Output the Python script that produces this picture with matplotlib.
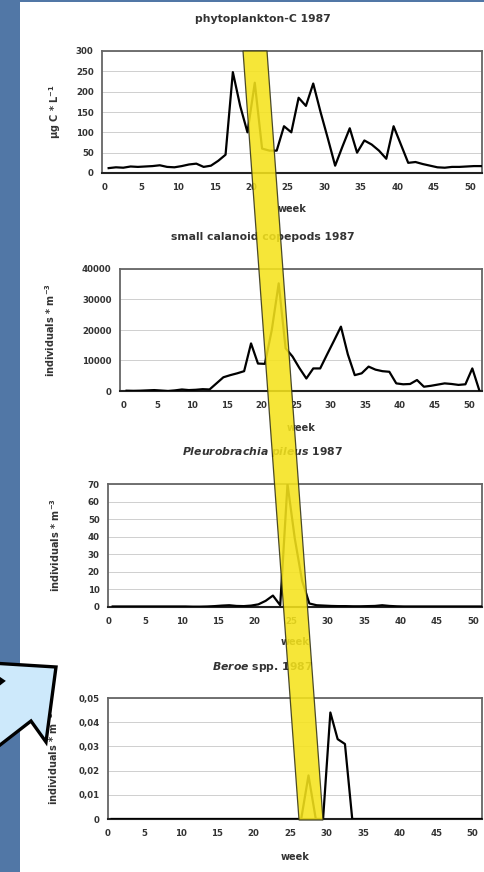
import numpy as np
import matplotlib
matplotlib.use("Agg")
import matplotlib.pyplot as plt
from matplotlib.patches import Polygon, Rectangle

# -- data (one value per week) --
weeks = np.arange(1, 53)

phyto_c = [12, 14, 13, 16, 15, 16, 17, 19, 15, 14, 17, 21, 23, 15, 18, 30, 45,
           248, 165, 100, 222, 60, 55, 55, 115, 100, 185, 165, 220, 150, 85, 18,
           65, 110, 50, 80, 70, 55, 35, 115, 70, 25, 27, 22, 18, 14, 13, 15, 15,
           16, 17, 17]

copepods = [100, 50, 100, 200, 300, 150, 0, 200, 500, 300, 400, 600, 500, 2500,
            4500, 5200, 5800, 6500, 15600, 9000, 8900, 20000, 35300, 14000, 11300,
            7500, 4100, 7400, 7400, 12000, 16500, 21100, 12000, 5200, 5800, 8000,
            7000, 6500, 6300, 2500, 2200, 2300, 3600, 1400, 1700, 2100, 2500, 2300,
            2000, 2200, 7400, 300]

pleurobrachia = [0.3, 0.3, 0.3, 0.3, 0.3, 0.3, 0.3, 0.3, 0.3, 0.3, 0.3, 0.2, 0.2,
                 0.3, 0.5, 0.8, 1.0, 0.6, 0.5, 0.8, 1.5, 3.5, 6.5, 1.0, 70, 39, 15,
                 2, 1, 0.8, 0.6, 0.5, 0.5, 0.4, 0.4, 0.5, 0.6, 1.0, 0.6, 0.4, 0.3,
                 0.3, 0.3, 0.3, 0.3, 0.3, 0.3, 0.3, 0.3, 0.3, 0.3, 0.3]

beroe = [0] * 27 + [0.018, 0, 0, 0.044, 0.033, 0.031] + [0] * 19

titles = ["phytoplankton-C 1987", "small calanoid copepods 1987",
          "$\\it{Pleurobrachia\\ pileus}$ 1987", "$\\it{Beroe}$ spp. 1987"]
ylabels = ["µg C * L$^{-1}$", "individuals * m$^{-3}$",
           "individuals * m$^{-3}$", "individuals * m$^{-3}$"]
yticks = [[0, 50, 100, 150, 200, 250, 300],
          [0, 10000, 20000, 30000, 40000],
          [0, 10, 20, 30, 40, 50, 60, 70],
          [0, 0.01, 0.02, 0.03, 0.04, 0.05]]
ytick_labels = [["0", "50", "100", "150", "200", "250", "300"],
                ["0", "10000", "20000", "30000", "40000"],
                ["0", "10", "20", "30", "40", "50", "60", "70"],
                ["0", "0,01", "0,02", "0,03", "0,04", "0,05"]]
xticks = [0, 5, 10, 15, 20, 25, 30, 35, 40, 45, 50]
series = [phyto_c, copepods, pleurobrachia, beroe]

# -- layout in pixels of the 484x872 slide --
W, H = 484, 872
def fx(x): return x / W
def fy(y): return 1 - y / H

# left, right, top, bottom of each plot area, and x limits
boxes = [(102, 482, 51, 173), (120, 482, 269, 391), (108, 482, 484, 607), (108, 482, 698, 819)]
xlims = [(-0.41, 51.6), (-0.45, 51.9), (-0.14, 51.2), (0, 51.3)]
title_y = [19, 237, 452, 667]
week_y = [209, 428, 642, 857]
ylab_x = [55, 50, 55, 53]

plt.rcParams['font.family'] = 'DejaVu Sans'
plt.rcParams['font.weight'] = 'bold'
plt.rcParams['mathtext.default'] = 'bf'

fig = plt.figure(figsize=(W / 100, H / 100), dpi=100, facecolor='#5177a6')
# white slide panel
fig.patches.append(Rectangle((fx(20), 0), 1 - fx(20), fy(2), transform=fig.transFigure,
                             facecolor='white', edgecolor='none', zorder=-1))

txt = '#333333'
for i in range(4):
    l, r, t, b = boxes[i]
    ax = fig.add_axes([fx(l), fy(b), fx(r) - fx(l), fy(t) - fy(b)])
    ax.plot(weeks - 0.5, series[i], color='black', lw=1.6, zorder=3)
    ax.set_xlim(*xlims[i])
    ax.set_ylim(yticks[i][0], yticks[i][-1])
    ax.set_xticks(xticks)
    ax.set_yticks(yticks[i], ytick_labels[i])
    ax.tick_params(length=0, labelsize=6.2, labelcolor=txt)
    ax.tick_params(axis='y', pad=6)
    ax.tick_params(axis='x', pad=7)
    ax.grid(axis='y', color='#c8c8c8', lw=0.6)
    ax.set_axisbelow(True)
    for s in ['left', 'top', 'right']:
        ax.spines[s].set_color('#666666')
        ax.spines[s].set_linewidth(1.3)
    ax.spines['bottom'].set_color('#222222')
    ax.spines['bottom'].set_linewidth(1.5)

    fig.text(fx(263), fy(title_y[i]), titles[i], ha='center', va='center',
             fontsize=7.8, color=txt)
    fig.text(fx((l + r) / 2), fy(week_y[i]), 'week', ha='center', va='center',
             fontsize=7, color=txt)
    fig.text(fx(ylab_x[i]), fy((t + b) / 2), ylabels[i], rotation=90,
             ha='center', va='center', fontsize=7, color=txt)

# yellow diagonal band across all four panels
band = [(243, 51), (267, 51), (323, 820), (299, 820)]
fig.patches.append(Polygon([(fx(x), fy(y)) for x, y in band], closed=True,
                           transform=fig.transFigure, facecolor='#f5e31c',
                           edgecolor='#333318', lw=0.9, alpha=0.88, zorder=5))

# light blue block arrow on the left
arrow = [(56, 667), (46, 742), (31, 721), (-49, 783), (-77, 743), (3, 681), (-25, 662)]
fig.patches.append(Polygon([(fx(x), fy(y)) for x, y in arrow], closed=True,
                           transform=fig.transFigure, facecolor='#cde9fb',
                           edgecolor='black', lw=2.4, joinstyle='miter', zorder=6))

fig.savefig('out.png', dpi=100, facecolor=fig.get_facecolor())
